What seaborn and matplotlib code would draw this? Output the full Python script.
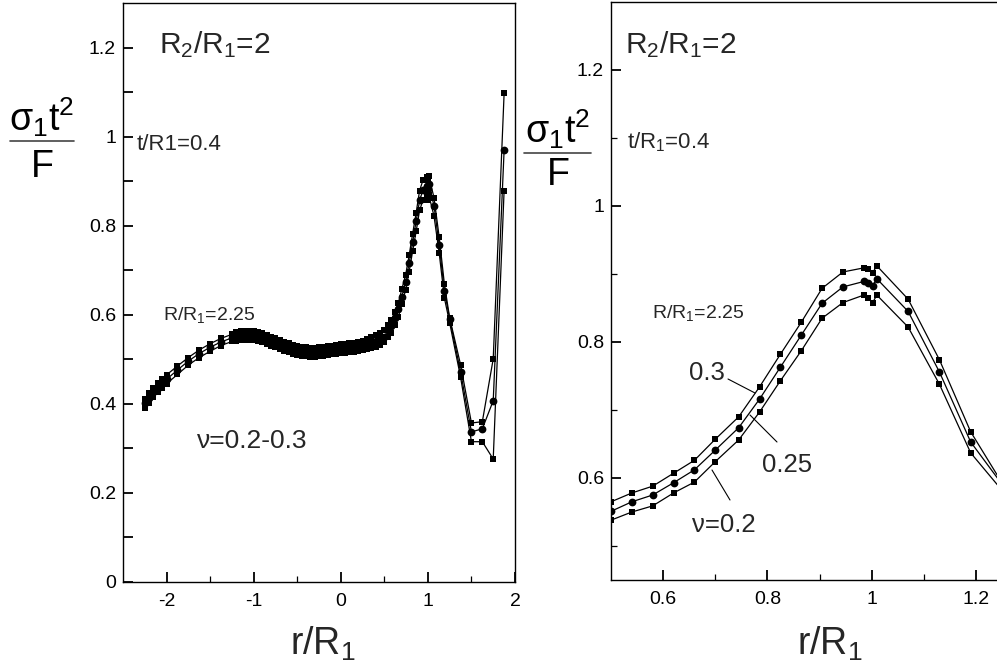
import numpy as np
import pandas as pd
import matplotlib
matplotlib.use("Agg")
import matplotlib.pyplot as plt
import seaborn as sns
from matplotlib.lines import Line2D
from matplotlib.ticker import FixedLocator, FuncFormatter

# ---------------- data ----------------
r = [-2.25, -2.2, -2.15, -2.1, -2.05, -2.0, -1.875, -1.75, -1.625, -1.5, -1.375, -1.25,
     -1.2, -1.15, -1.1, -1.05, -1.0, -0.95, -0.9, -0.85, -0.8, -0.75, -0.7, -0.65,
     -0.6, -0.55, -0.5, -0.45, -0.4, -0.35, -0.3, -0.25, -0.2, -0.15, -0.1, -0.05,
     0.0, 0.05, 0.1, 0.15, 0.2, 0.25, 0.3, 0.35, 0.4, 0.45,
     0.5, 0.54, 0.58, 0.62, 0.66, 0.70, 0.745, 0.785, 0.825, 0.865, 0.905, 0.945,
     0.985, 0.993, 1.002, 1.01, 1.07, 1.13, 1.19, 1.25, 1.375, 1.5, 1.625, 1.75, 1.875]

s_nu030 = [0.412, 0.424, 0.436, 0.446, 0.456, 0.465, 0.485, 0.504, 0.521, 0.535, 0.547, 0.556,
           0.561, 0.563, 0.564, 0.564, 0.563, 0.561, 0.558, 0.555, 0.551, 0.547, 0.543, 0.539,
           0.536, 0.533, 0.530, 0.528, 0.527, 0.526, 0.526, 0.527, 0.528, 0.529, 0.531, 0.532,
           0.534, 0.535, 0.536, 0.537, 0.539, 0.541, 0.545, 0.549, 0.554, 0.560,
           0.565, 0.578, 0.588, 0.607, 0.626, 0.657, 0.690, 0.734, 0.782, 0.829, 0.879, 0.903,
           0.909, 0.907, 0.902, 0.912, 0.863, 0.774, 0.668, 0.593, 0.488, 0.357, 0.360, 0.501, 1.097]

s_nu025 = [0.402, 0.414, 0.426, 0.436, 0.446, 0.455, 0.476, 0.496, 0.513, 0.527, 0.539, 0.548,
           0.551, 0.553, 0.554, 0.554, 0.553, 0.551, 0.548, 0.545, 0.541, 0.537, 0.533, 0.529,
           0.526, 0.523, 0.520, 0.518, 0.517, 0.516, 0.516, 0.517, 0.518, 0.519, 0.521, 0.522,
           0.524, 0.525, 0.526, 0.527, 0.529, 0.531, 0.534, 0.537, 0.541, 0.546,
           0.551, 0.565, 0.575, 0.593, 0.612, 0.641, 0.674, 0.716, 0.763, 0.810, 0.857, 0.881,
           0.889, 0.887, 0.883, 0.893, 0.845, 0.756, 0.653, 0.591, 0.472, 0.337, 0.344, 0.407, 0.969]

s_nu020 = [0.390, 0.403, 0.415, 0.426, 0.436, 0.445, 0.466, 0.487, 0.504, 0.518, 0.531, 0.540,
           0.541, 0.543, 0.544, 0.544, 0.543, 0.541, 0.538, 0.535, 0.531, 0.527, 0.523, 0.519,
           0.516, 0.513, 0.510, 0.508, 0.507, 0.506, 0.506, 0.507, 0.508, 0.509, 0.511, 0.512,
           0.514, 0.515, 0.516, 0.517, 0.519, 0.520, 0.523, 0.525, 0.528, 0.532,
           0.538, 0.550, 0.559, 0.578, 0.594, 0.624, 0.656, 0.697, 0.743, 0.787, 0.835, 0.858,
           0.869, 0.865, 0.858, 0.869, 0.822, 0.738, 0.637, 0.582, 0.460, 0.315, 0.315, 0.276, 0.879]

series_names = ["0.3", "0.25", "0.2"]
series_values = [s_nu030, s_nu025, s_nu020]

left_xticks = [-2, -1, 0, 1, 2]
left_xminor = [-1.5, -0.5, 0.5, 1.5]
left_yticks = [0, 0.2, 0.4, 0.6, 0.8, 1.0, 1.2]
left_yminor = [0.1, 0.3, 0.5, 0.7, 0.9, 1.1]
right_xticks = [0.6, 0.8, 1.0, 1.2]
right_xminor = [0.7, 0.9, 1.1]
right_yticks = [0.6, 0.8, 1.0, 1.2]
right_yminor = [0.5, 0.7, 0.9, 1.1]

# ---------------- style ----------------
sns.set_theme(style="white")
plt.rcParams["font.family"] = ["Liberation Sans", "DejaVu Sans"]
plt.rcParams["mathtext.fontset"] = "custom"
plt.rcParams["mathtext.rm"] = "Liberation Sans"
plt.rcParams["mathtext.it"] = "Liberation Sans"
plt.rcParams["mathtext.bf"] = "Liberation Sans:bold"
plt.rcParams["axes.unicode_minus"] = False

W, H = 997, 668
fig = plt.figure(figsize=(W / 100, H / 100), dpi=100)
fig.patch.set_facecolor("white")


def fx(px):
    return px / W


def fy(py):
    return 1 - py / H


ax1 = fig.add_axes([fx(123), fy(582), 392 / W, 579 / H])
ax2 = fig.add_axes([fx(611), fy(580), 417 / W, 578 / H])

marker_style = {"0.3": ("s", 4.0), "0.25": ("o", 5.6), "0.2": ("s", 4.0)}

for ax in (ax1, ax2):
    ax.set_facecolor("white")
    for name, vals in zip(series_names, series_values):
        m, ms = marker_style[name]
        sns.lineplot(x=r, y=vals, ax=ax, color="black", lw=0.9, marker=m,
                     markersize=ms, markeredgewidth=0, estimator=None,
                     sort=False, legend=False)
    ax.set_xlabel("")
    ax.set_ylabel("")
    ax.grid(False)
    for sp in ax.spines.values():
        sp.set_color("black")
        sp.set_linewidth(1.0)
        sp.set_visible(True)

fmt = FuncFormatter(lambda v, p: f"{v:g}")

ax1.set_xlim(-2.5, 2.0)
ax1.set_ylim(0, 1.3)
ax1.xaxis.set_major_locator(FixedLocator(left_xticks))
ax1.xaxis.set_minor_locator(FixedLocator(left_xminor))
ax1.yaxis.set_major_locator(FixedLocator(left_yticks))
ax1.yaxis.set_minor_locator(FixedLocator(left_yminor))

ax2.set_xlim(0.5, 1.3)
ax2.set_ylim(0.45, 1.3)
ax2.xaxis.set_major_locator(FixedLocator(right_xticks))
ax2.xaxis.set_minor_locator(FixedLocator(right_xminor))
ax2.yaxis.set_major_locator(FixedLocator(right_yticks))
ax2.yaxis.set_minor_locator(FixedLocator(right_yminor))

for ax in (ax1, ax2):
    ax.xaxis.set_major_formatter(fmt)
    ax.yaxis.set_major_formatter(fmt)
    ax.tick_params(axis="both", which="both", direction="in", color="black",
                   bottom=True, left=True, top=False, right=False)
    ax.tick_params(axis="x", which="major", length=7.5, width=1.3, pad=8,
                   labelsize=14, labelcolor="black")
    ax.tick_params(axis="x", which="minor", length=4, width=0.9)
    ax.tick_params(axis="y", which="major", length=7.5, width=1.3, pad=5,
                   labelsize=14, labelcolor="black")
ax1.tick_params(axis="y", which="minor", length=7.5, width=1.3)
ax2.tick_params(axis="y", which="minor", length=4, width=0.9)

# ---------------- axis labels ----------------
for cx, base_s, line_y, base_f, x0, x1 in [(42, 131, 141, 177, 10, 74),
                                            (558, 143, 153, 185, 524, 591)]:
    fig.text(fx(cx), fy(base_s), "σ$_1$t$^2$", ha="center", va="baseline",
             fontsize=27, color="black")
    fig.add_artist(Line2D([fx(x0), fx(x1)], [fy(line_y), fy(line_y)],
                          color="#444444", lw=1.2))
    fig.text(fx(cx), fy(base_f), "F", ha="center", va="baseline",
             fontsize=27, color="black")

fig.text(fx(323), fy(655), "r/R$_1$", ha="center", va="baseline", fontsize=27)
fig.text(fx(830), fy(655), "r/R$_1$", ha="center", va="baseline", fontsize=27)

# ---------------- annotations ----------------
fig.text(fx(159), fy(53), "R$_2$/R$_1$=2", ha="left", va="baseline", fontsize=21.5)
fig.text(fx(137), fy(150), "t/R1=0.4", ha="left", va="baseline", fontsize=16)
fig.text(fx(163), fy(320), "R/R$_1$=2.25", ha="left", va="baseline", fontsize=14)
fig.text(fx(197), fy(448), "ν=0.2-0.3", ha="left", va="baseline", fontsize=19)

fig.text(fx(625), fy(53), "R$_2$/R$_1$=2", ha="left", va="baseline", fontsize=21.5)
fig.text(fx(627), fy(148), "t/R$_1$=0.4", ha="left", va="baseline", fontsize=16)
fig.text(fx(652), fy(318), "R/R$_1$=2.25", ha="left", va="baseline", fontsize=14)

fig.text(fx(689), fy(380), "0.3", ha="left", va="baseline", fontsize=18.5)
fig.text(fx(762), fy(472), "0.25", ha="left", va="baseline", fontsize=18.5)
fig.text(fx(692), fy(532), "ν=0.2", ha="left", va="baseline", fontsize=18.5)

for (xa, ya, xb, yb) in [(728, 379, 755, 393), (750, 415, 777, 442), (712, 470, 730, 500)]:
    fig.add_artist(Line2D([fx(xa), fx(xb)], [fy(ya), fy(yb)], color="black", lw=0.8))

fig.savefig("out.png", dpi=100)
